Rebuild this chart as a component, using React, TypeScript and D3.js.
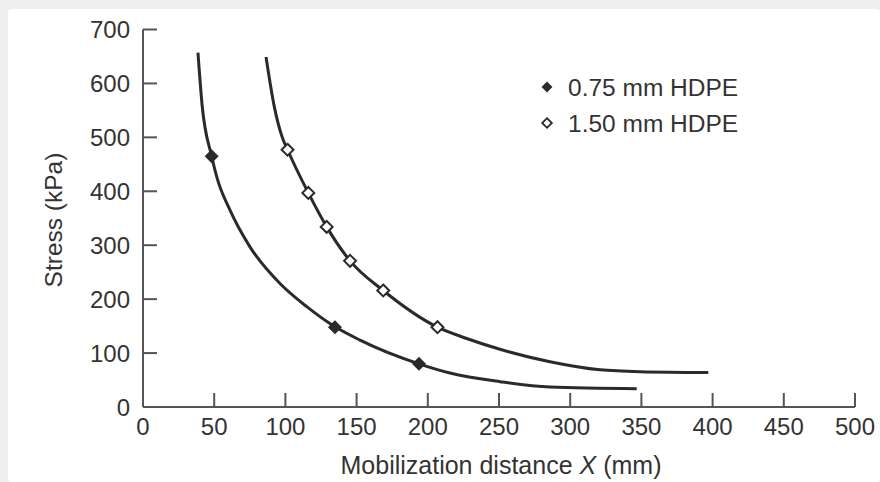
import React from "react";
import * as d3 from "d3";

// ---- Data ----
const xTicks = [0, 50, 100, 150, 200, 250, 300, 350, 400, 450, 500];
const yTicks = [0, 100, 200, 300, 400, 500, 600, 700];

const seriesNames = ["0.75 mm HDPE", "1.50 mm HDPE"];

// Measured points (markers)
const markers075X = [48.2, 134.8, 193.8];
const markers075Y = [465, 148, 80];
const markers150X = [101.5, 116.1, 129, 145.4, 168.7, 206.8];
const markers150Y = [477, 397, 334, 271, 216, 148];

// Fitted curves
const curve075X = [38.6, 41.5, 48.2, 52, 61.1, 75.1, 96.2, 115, 133.4, 152.4, 193.8, 215.6, 250.7, 285.8, 346.7];
const curve075Y = [657, 560, 465, 425, 365, 297, 229, 186, 151, 124, 80, 63, 47, 37, 34];
const curve150X = [86.4, 92.2, 97.8, 101.5, 116.1, 129, 145.4, 168.7, 206.8, 227.3, 250.7, 285.8, 321, 349, 397];
const curve150Y = [649, 557, 500, 477, 397, 334, 271, 216, 148, 127, 107, 84, 69, 65.5, 64];

const W = 880;
const H = 482;
const FONT = "'Liberation Sans', Arial, Helvetica, sans-serif";
const INK = "#333";

export default function App() {
  const x = d3.scaleLinear().domain([0, 500]).range([143, 855]);
  const y = d3.scaleLinear().domain([0, 700]).range([407, 29.5]);

  const line = d3
    .line<[number, number]>()
    .x((d) => x(d[0]))
    .y((d) => y(d[1]))
    .curve(d3.curveMonotoneX);

  const c075 = curve075X.map((v, i) => [v, curve075Y[i]] as [number, number]);
  const c150 = curve150X.map((v, i) => [v, curve150Y[i]] as [number, number]);
  const m075 = markers075X.map((v, i) => [v, markers075Y[i]] as [number, number]);
  const m150 = markers150X.map((v, i) => [v, markers150Y[i]] as [number, number]);

  const diamond = d3.symbol().type(d3.symbolDiamond2).size(125)() as string;
  const diamondOpen = d3.symbol().type(d3.symbolDiamond2).size(90)() as string;

  return (
    <svg
      width={W}
      height={H}
      style={{ position: "absolute", left: 0, top: 0, display: "block" }}
      fontFamily={FONT}
    >
      <rect x={0} y={0} width={W} height={H} fill="#eeeeee" />
      <rect x={8} y={9} width={W - 8} height={H - 9} rx={3} fill="#ffffff" />

      {/* Axes */}
      <line x1={x(0)} y1={y(0)} x2={x(500)} y2={y(0)} stroke="#555" strokeWidth={2} />
      <line x1={x(0)} y1={y(0)} x2={x(0)} y2={y(700)} stroke="#555" strokeWidth={2} />

      {yTicks.map((t) => (
        <g key={"y" + t}>
          {t > 0 && (
            <line x1={x(0)} x2={x(0) + 14} y1={y(t)} y2={y(t)} stroke="#555" strokeWidth={2} />
          )}
          <text x={130} y={y(t)} dy="0.36em" textAnchor="end" fontSize={24} fill={INK}>
            {t}
          </text>
        </g>
      ))}

      {xTicks.map((t) => (
        <g key={"x" + t}>
          {t > 0 && (
            <line x1={x(t)} x2={x(t)} y1={y(0)} y2={y(0) - 14} stroke="#555" strokeWidth={2} />
          )}
          <text x={x(t)} y={435} textAnchor="middle" fontSize={24} fill={INK}>
            {t}
          </text>
        </g>
      ))}

      {/* Axis titles */}
      <text x={501} y={474} textAnchor="middle" fontSize={25} fill={INK}>
        Mobilization distance <tspan fontStyle="italic">X</tspan> (mm)
      </text>
      <text transform={`translate(62, 220) rotate(-90)`} textAnchor="middle" fontSize={24.5} fill={INK}>
        Stress (kPa)
      </text>

      {/* Curves */}
      <path d={line(c075) as string} fill="none" stroke="#2a2a2a" strokeWidth={3} />
      <path d={line(c150) as string} fill="none" stroke="#2a2a2a" strokeWidth={3} />

      {/* Markers */}
      {m075.map((d, i) => (
        <path key={"f" + i} d={diamond} transform={`translate(${x(d[0])},${y(d[1])})`} fill="#2a2a2a" />
      ))}
      {m150.map((d, i) => (
        <path
          key={"o" + i}
          d={diamondOpen}
          transform={`translate(${x(d[0])},${y(d[1])})`}
          fill="#fff"
          stroke="#2a2a2a"
          strokeWidth={2}
        />
      ))}

      {/* Legend */}
      <path d={d3.symbol().type(d3.symbolDiamond2).size(75)() as string} transform="translate(547,87)" fill="#2a2a2a" />
      <text x={568} y={96} fontSize={24.5} fill={INK}>
        {seriesNames[0]}
      </text>
      <path
        d={d3.symbol().type(d3.symbolDiamond2).size(60)() as string}
        transform="translate(547,123)"
        fill="#fff"
        stroke="#2a2a2a"
        strokeWidth={1.8}
      />
      <text x={568} y={132} fontSize={24.5} fill={INK}>
        {seriesNames[1]}
      </text>
    </svg>
  );
}
